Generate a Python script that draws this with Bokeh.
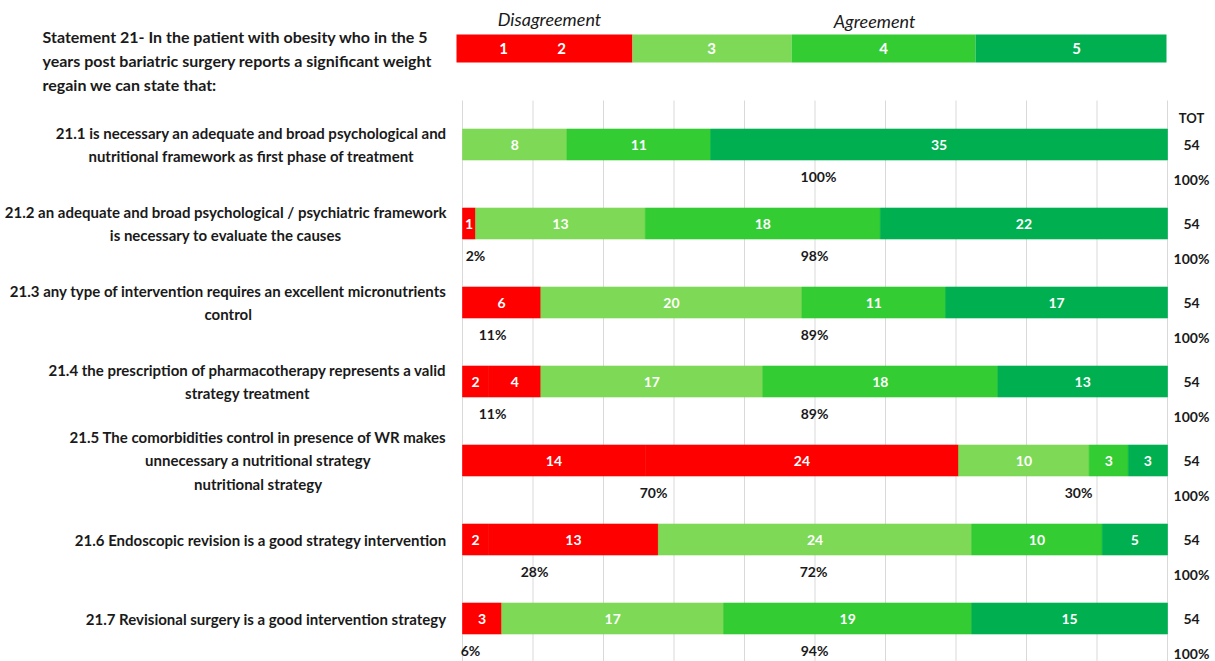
from bokeh.plotting import figure
from bokeh.models import Range1d
from bokeh.core.properties import value
from bokeh.embed import file_html
from bokeh.resources import INLINE

# ---------------- data ----------------
statement_labels = [
    "21.1 is necessary an adequate and broad psychological and\nnutritional framework as first phase of treatment",
    "21.2 an adequate and broad psychological / psychiatric framework\nis necessary to evaluate the causes",
    "21.3 any type of intervention requires an excellent micronutrients\ncontrol",
    "21.4 the prescription of pharmacotherapy represents a valid\nstrategy treatment",
    "21.5 The comorbidities control in presence of WR makes\nunnecessary a nutritional strategy\nnutritional strategy",
    "21.6 Endoscopic revision is a good strategy intervention",
    "21.7 Revisional surgery is a good intervention strategy",
]
score1 = [0, 1, 6, 2, 14, 2, 3]
score2 = [0, 0, 0, 4, 24, 13, 0]
score3 = [8, 13, 20, 17, 10, 24, 17]
score4 = [11, 18, 11, 18, 3, 10, 19]
score5 = [35, 22, 17, 13, 3, 5, 15]
legend_labels = ["1", "2", "3", "4", "5"]
title_text = ("Statement 21- In the patient with obesity who in the 5\n"
              "years post bariatric surgery reports a significant weight\n"
              "regain we can state that:")

# ---------------- styles / layout ----------------
RED = "#FF0000"
LGREEN = "#7ED957"
GREEN = "#33CC33"
DGREEN = "#00B050"
colors = [RED, RED, LGREEN, GREEN, DGREEN]
FONT = "Lato"
INK = "#1a1a1a"
PX_PER_UNIT = 7.05
X0_PX = 462
ROW0_Y = 144
ROW_STEP = 79
BAR_H = 31


def ux(px):
    return (px - X0_PX) / PX_PER_UNIT


p = figure(width=1215, height=661, x_range=Range1d(ux(0), ux(1215)),
           y_range=Range1d(661, 0), x_axis_type=None, y_axis_type=None,
           toolbar_location=None, output_backend="svg", min_border=0)
p.outline_line_color = None
p.xgrid.visible = False
p.ygrid.visible = False
p.background_fill_color = "white"

n = len(statement_labels)
row_y = [ROW0_Y + i * ROW_STEP for i in range(n)]

# vertical gridlines 0..100%
grid_x = list(range(0, 101, 10))
p.segment(x0=grid_x, x1=grid_x, y0=[100] * len(grid_x), y1=[661] * len(grid_x),
          line_color="#D9D9D9", line_width=1)

series = [score1, score2, score3, score4, score5]
totals = [sum(s[i] for s in series) for i in range(n)]

lefts, rights, ys, cols, lab_x, lab_y, lab_t = [], [], [], [], [], [], []
for i in range(n):
    cum = 0
    for k, s in enumerate(series):
        v = s[i]
        if v == 0:
            continue
        l = cum / totals[i] * 100
        r = (cum + v) / totals[i] * 100
        lefts.append(l); rights.append(r); ys.append(row_y[i]); cols.append(colors[k])
        lab_x.append((l + r) / 2); lab_y.append(row_y[i]); lab_t.append(str(v))
        cum += v

p.hbar(y=ys, left=lefts, right=rights, height=BAR_H, fill_color=cols,
       line_color=cols, line_width=0.6)
p.text(x=lab_x, y=lab_y, text=lab_t, text_color="white", text_font=value(FONT),
       text_font_style="bold", text_font_size="14px", text_align="center",
       text_baseline="middle")

# percentages
dis_pct, agr_pct = [], []
for i in range(n):
    d = score1[i] + score2[i]
    a = totals[i] - d
    dis_pct.append(round(d / totals[i] * 100))
    agr_pct.append(round(a / totals[i] * 100))

dis_x = [None, ux(475), ux(492), ux(492), ux(653), ux(534), ux(470)]
agr_x = [ux(818), ux(814), ux(814), ux(814), ux(1078), ux(813), ux(814)]
px, py, pt = [], [], []
for i in range(n):
    if dis_pct[i] > 0:
        px.append(dis_x[i]); py.append(row_y[i] + 32); pt.append(f"{dis_pct[i]}%")
    if agr_pct[i] > 0:
        px.append(agr_x[i]); py.append(row_y[i] + 32); pt.append(f"{agr_pct[i]}%")
p.text(x=px, y=py, text=pt, text_color=INK, text_font=value(FONT),
       text_font_style="bold", text_font_size="14px", text_align="center",
       text_baseline="middle")

# TOT column
tot_x = ux(1191)
p.text(x=[tot_x], y=[row_y[0] - 27], text=["TOT"], text_color=INK,
       text_font=value(FONT), text_font_style="bold", text_font_size="13px",
       text_align="center", text_baseline="middle")
p.text(x=[tot_x] * n, y=row_y, text=[str(t) for t in totals], text_color=INK,
       text_font=value(FONT), text_font_style="bold", text_font_size="14px",
       text_align="center", text_baseline="middle")
p.text(x=[tot_x] * n, y=[y + 35 for y in row_y],
       text=[f"{round(t / t * 100)}%" for t in totals], text_color=INK,
       text_font=value(FONT), text_font_style="bold", text_font_size="14px",
       text_align="center", text_baseline="middle")

# statement labels (right edge at bar start, lines centered)
p.text(x=[ux(446)] * n, y=row_y, text=statement_labels, text_color=INK,
       text_font=value(FONT), text_font_style="bold", text_font_size="15px",
       text_align="center", anchor="center_right", text_line_height=1.33)

# title
p.text(x=[ux(42)], y=[60], text=[title_text], text_color=INK,
       text_font=value(FONT), text_font_style="bold", text_font_size="16px",
       text_align="left", anchor="center_left", text_line_height=1.25)

# legend bar
leg_edges = [ux(456), ux(632), ux(791), ux(975), ux(1166)]
leg_cols = [RED, LGREEN, GREEN, DGREEN]
p.hbar(y=[48] * 4, left=leg_edges[:-1], right=leg_edges[1:], height=28,
       fill_color=leg_cols, line_color=None)
leg_lab_x = [ux(503), ux(561), ux(711), ux(883), ux(1076)]
p.text(x=leg_lab_x, y=[48] * 5, text=legend_labels, text_color="white",
       text_font=value(FONT), text_font_style="bold", text_font_size="15px",
       text_align="center", text_baseline="middle")
p.text(x=[ux(549), ux(874)], y=[18, 20],
       text=["Disagreement", "Agreement"], text_color=INK,
       text_font=value(FONT), text_font_style="italic", text_font_size="18px",
       text_align="center", text_baseline="middle")

open("out.html", "w").write(file_html(p, INLINE))
